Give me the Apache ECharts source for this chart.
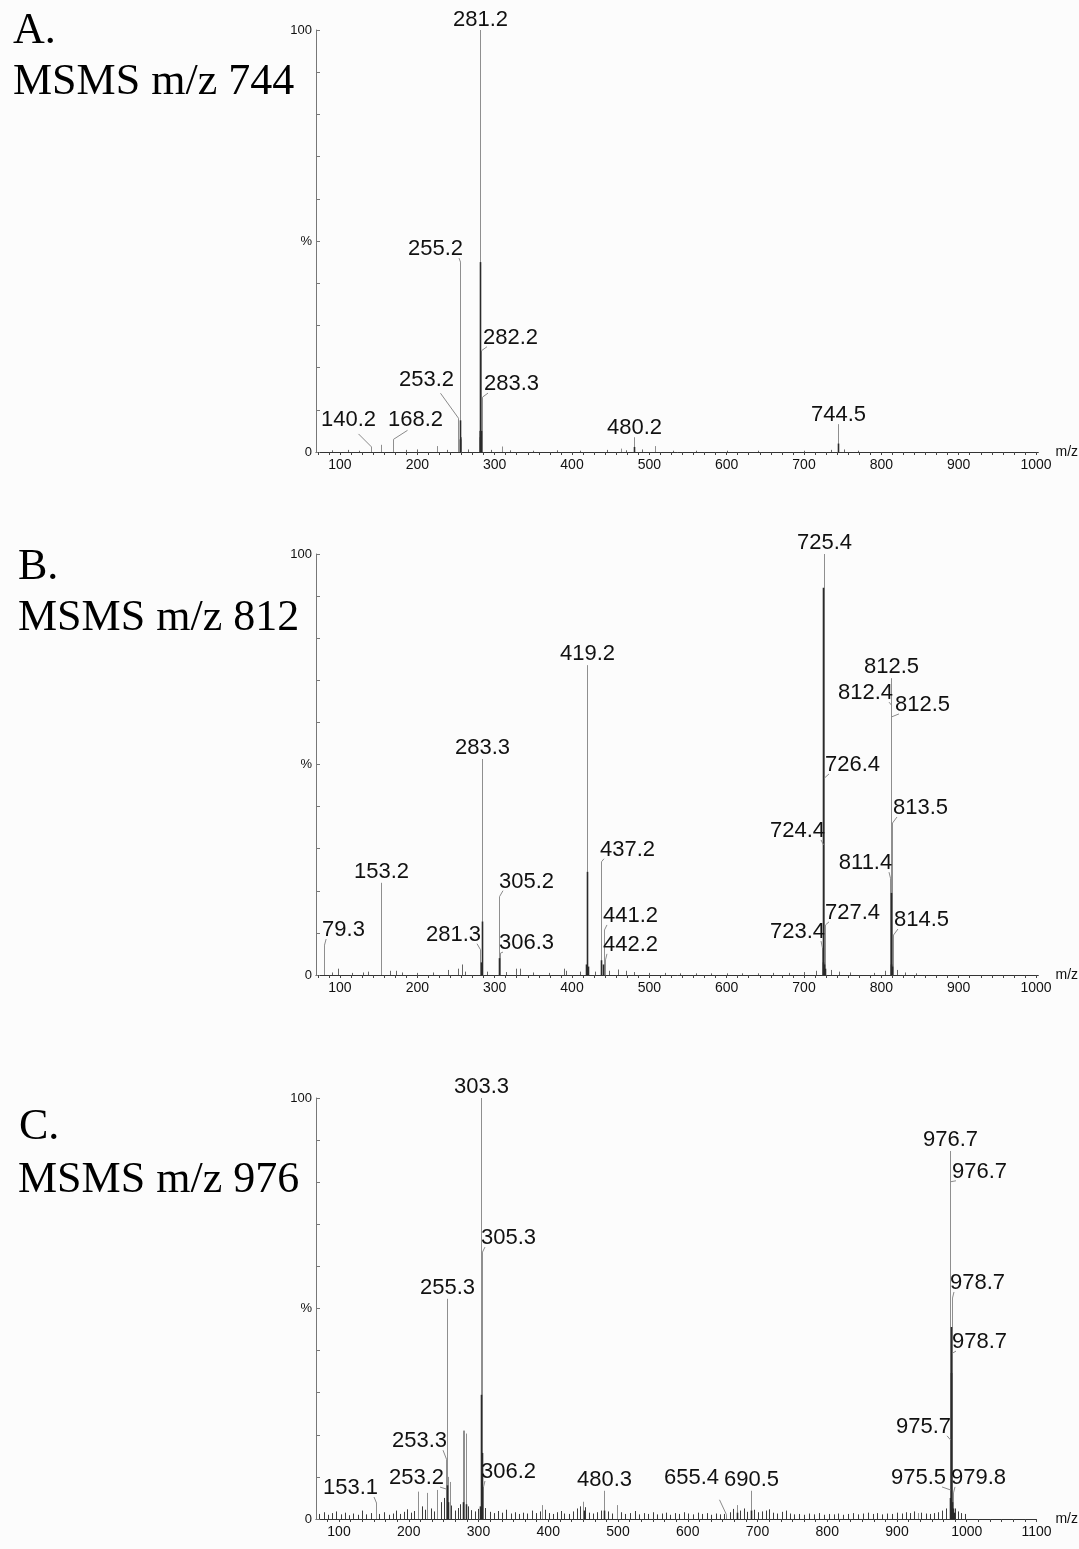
<!DOCTYPE html>
<html>
<head>
<meta charset="utf-8">
<script src="https://cdn.jsdelivr.net/npm/echarts@6/dist/echarts.min.js"></script>
<style>
	html, body { margin: 0; padding: 0; background: #fcfcfc; }
	#chart { width: 1079px; height: 1549px; }
</style>
</head>
<body>
<div id="chart"></div>
<script>
// ---- A. MSMS m/z 744 ----
var peaksA = [[140.2,1.2],[153.5,1.7],[168.2,3.0],[225,1.4],[253.2,8.0],[255.2,45],[256.3,3.5],[279.8,5],
	[281.2,100],[282.2,24],[283.3,13],[309,1.3],[463,0.8],[480.2,3.5],[507,1.4],[744.5,6.6]];
var coresA = [[254.8,7.5],[255.6,3],[281.0,45],[280.6,3.5],[281.8,5],[480.2,1.2],[744.5,2]];
var noiseA = [[90,0.4],[110,0.5],[125,0.3],[185,0.5],[200,0.6],[238,0.5],[265,0.6],[295,0.5],[320,0.4],
	[350,0.3],[380,0.4],[410,0.3],[445,0.5],[470,0.4],[490,0.6],[530,0.3],[560,0.3],[600,0.3],[640,0.3],
	[700,0.3],[735,0.5],[752,0.6],[770,0.3]];
var labelsA = [[281.2,100,'281.2'],[255.2,45,'255.2'],[282.2,24,'282.2'],[283.3,13,'283.3'],[253.2,8,'253.2'],
	[140.2,1.2,'140.2'],[168.2,3.0,'168.2'],[480.2,3.5,'480.2'],[744.5,6.6,'744.5']];
// label offsets in px from the anchor: [dx, dy, leaderX, leaderY]
var labelPosA = [[0,-10],[-25,-13],[29,-13],[29,-13],[-32,-38,-18,-25],[-23,-27,-13,-13],[22,-19,14,-9],[0,-9],[0,-9]];

// ---- B. MSMS m/z 812 ----
var peaksB = [[79.3,7.1],[153.2,21.9],[281.3,6.0],[283.3,51.3],[305.2,18.6],[306.3,5.2],[419.2,73.6],[437.2,26.9],
	[441.2,10.7],[442.2,3.6],[723.4,6.4],[724.4,30.9],[725.4,100],[726.4,46.8],[727.4,11.9],[811.4,23.0],
	[812.4,64.1],[812.5,70.5],[813.5,36.1],[814.5,9.5]];
var coresB = [[283.6,12.7],[282.6,3],[305.6,4],[419.4,24.5],[418.6,2.5],[420.4,2],[437.6,3.5],[440.4,2.5],
	[725.2,92],[724.6,3],[726.2,2.5],[727.2,1.5],[812.7,19.5],[812,2.5],[813.4,2]];
var noiseB = [[90,0.6],[98,1.5],[115,0.5],[130,0.6],[136,0.8],[165,1],[172,1],[180,0.6],[200,0.5],[220,0.6],
	[240,1.2],[253,1.5],[258,2.5],[262,0.8],[290,0.8],[315,0.7],[327,1.5],[333,1.5],[350,0.6],[370,0.5],
	[390,1.5],[392,1.0],[410,0.8],[430,0.8],[448,1],[460,1.3],[470,1],[480,0.7],[500,0.5],[520,0.5],
	[540,0.4],[560,0.4],[580,0.4],[600,0.4],[620,0.4],[640,0.4],[660,0.5],[680,0.5],[700,0.7],[715,1],
	[735,1.2],[745,0.8],[760,0.6],[790,0.5],[805,1],[820,1.2],[830,0.6],[845,0.4]];
var labelsB = [[79.3,7.1,'79.3'],[153.2,21.9,'153.2'],[281.3,6.0,'281.3'],[283.3,51.3,'283.3'],[305.2,18.6,'305.2'],
	[306.3,5.2,'306.3'],[419.2,73.6,'419.2'],[437.2,26.9,'437.2'],[441.2,10.7,'441.2'],[442.2,3.6,'442.2'],
	[725.4,100,'725.4'],[726.4,46.8,'726.4'],[724.4,30.9,'724.4'],[727.4,11.9,'727.4'],[723.4,6.4,'723.4'],
	[812.5,70.5,'812.5'],[812.4,64.1,'812.4'],[812.5,61.3,'812.5'],[813.5,36.1,'813.5'],[811.4,23.0,'811.4'],
	[814.5,9.5,'814.5']];
var labelPosB = [[19,-15],[0,-11],[-27,-15],[0,-11],[27,-15],[26,-10],[0,-11],[26,-12],[26,-14],[25,-15],
	[0,-11],[28,-13],[-26,-14],[27,-12],[-25,-16],[0,-11],[-26,-12],[31,-12],[28,-15],[-25,-15],[28,-15]];

// ---- C. MSMS m/z 976 ----
var peaksC = [[153.1,3.8],[213,6.5],[226.8,6.2],[240.4,6.9],[253.2,7.1],[253.3,14.2],[255.3,52.3],[256.5,10],
	[258.6,8.8],[277.5,21],[279.5,21],[281.5,20.3],[303.3,100],[305.3,63.4],[306.2,7.6],[391,3.3],[449.3,4.1],
	[480.3,6.7],[499,3.3],[655.4,1.0],[670,3.3],[690.5,6.7],[929.6,1.4],[975.5,6.9],[975.7,18.8],[976.7,87.4],
	[976.7,80.1],[978.7,52.5],[978.7,39.4],[979.8,6.2]];
var coresC = [[303.6,29.5],[304.4,15.7],[302.8,3],[255.5,8],[256.8,4],[278,4],[282,3.5],[977.0,45.6],[977.4,34.7],
	[976.2,5],[978.4,4],[980,2.5],[981.5,1.5],[480.3,2],[690.5,2],[451,2],[670,1.5]];
var noiseC = [[72,1.2],[78,1.6],[84,1.0],[90,1.4],[96,1.8],[103,1.1],[108,1.5],[114,0.9],[120,1.3],[127,1.0],
	[133,2.0],[139,1.1],[146,1.4],[158,1.2],[164,1.6],[171,1.0],[177,1.3],[182,2.0],[188,1.2],[193,1.7],
	[197,2.3],[203,1.5],[208,1.9],[219,3.0],[223,2.2],[232,2.5],[236,1.8],[246,4.0],[250,5.0],[261,3.2],
	[266,2.0],[270,2.6],[274,3.5],[285,3.0],[289,2.1],[295,1.8],[299,2.4],[310,2.6],[316,1.7],[322,1.4],
	[328,1.9],[334,1.5],[340,2.2],[346,1.3],[352,1.6],[358,1.2],[364,1.5],[370,1.3],[377,2.0],[383,1.4],
	[388,1.8],[395,2.2],[401,1.4],[407,1.2],[413,1.6],[418,1.9],[423,1.3],[430,1.2],[436,1.8],[441,2.5],
	[446,3.0],[453,2.8],[458,1.5],[464,1.3],[470,1.6],[475,2.0],[486,1.8],[492,1.3],[504,1.6],[510,1.2],
	[517,1.4],[524,1.9],[530,1.1],[537,1.4],[543,1.2],[550,1.6],[556,1.1],[563,1.3],[569,1.5],[575,1.0],
	[582,1.4],[588,1.2],[595,1.6],[601,1.3],[608,1.1],[614,1.5],[620,1.2],[627,1.4],[633,1.0],[640,1.3],
	[646,1.1],[652,1.2],[660,1.6],[665,2.4],[675,2.0],[680,2.5],[685,1.7],[695,2.2],[700,1.6],[706,1.8],
	[712,2.0],[717,2.3],[722,1.5],[728,1.3],[735,1.7],[741,2.0],[747,1.3],[753,1.1],[760,1.2],[767,1.0],
	[774,1.3],[781,1.1],[788,1.4],[795,1.0],[802,1.2],[809,1.1],[816,1.3],[823,1.0],[830,1.2],[837,1.4],
	[844,1.1],[851,1.3],[858,1.5],[865,1.2],[872,1.4],[879,1.1],[886,1.3],[893,1.2],[900,1.5],[907,1.3],
	[913,1.6],[919,1.4],[925,1.8],[935,1.5],[941,1.3],[947,1.2],[953,1.4],[959,1.6],[965,2.0],[970,2.5],
	[983,2.5],[987,1.8],[992,1.4],[997,1.2]];
var labelsC = [[303.3,100,'303.3'],[305.3,63.4,'305.3'],[306.2,7.6,'306.2'],[255.3,52.3,'255.3'],[253.3,14.2,'253.3'],
	[253.2,7.1,'253.2'],[153.1,3.8,'153.1'],[480.3,6.7,'480.3'],[655.4,1.0,'655.4'],[690.5,6.7,'690.5'],
	[976.7,87.4,'976.7'],[976.7,80.1,'976.7'],[978.7,52.5,'978.7'],[978.7,39.4,'978.7'],[975.7,18.8,'975.7'],
	[975.5,6.9,'975.5'],[979.8,6.2,'979.8']];
var labelPosC = [[0,-11],[26,-14],[25,-15],[0,-11],[-27,-18],[-30,-11],[-26,-15],[0,-11],[-35,-37,-7,-15],[0,-11],
	[0,-11],[29,-10],[25,-15],[27,-11],[-27,-13],[-32,-12],[25,-15]];

// axes
var xLabelsAB = [100,200,300,400,500,600,700,800,900,1000];
var xLabelsC = [100,200,300,400,500,600,700,800,900,1000,1100];
var yLabels = [0,50,100];
var yTicks = [0,10,20,30,40,50,60,70,80,90,100];
var titles = [['A.','MSMS m/z 744'],['B.','MSMS m/z 812'],['C.','MSMS m/z 976']];

var LABEL_FONT = 22;
var SANS = '"Liberation Sans", Arial, sans-serif';

function minorTicks(min, max, step) {
	var out = [];
	var v = 100;
	while (v - step >= min) v -= step;
	for (; v <= max + 0.01; v += step) out.push(Math.round(v * 100) / 100);
	return out;
}

function stick(color, width) {
	return function (params, api) {
		var top = api.coord([api.value(0), api.value(1)]);
		var base = api.coord([api.value(0), 0]);
		var x = Math.round(top[0]) + 0.5;
		return {
			type: 'line',
			shape: { x1: x, y1: top[1], x2: x, y2: base[1] },
			style: { stroke: color, lineWidth: width }
		};
	};
}

function peakLabel(labels, pos) {
	return function (params, api) {
		var i = params.dataIndex;
		var a = api.coord([api.value(0), api.value(1)]);
		a[0] = Math.round(a[0]) + 0.5;
		var p = pos[i];
		var text = labels[i][2];
		var cx = a[0] + p[0], cy = a[1] + p[1];
		var hw = ((text.length - 1) * 0.556 + 0.278) * LABEL_FONT / 2;
		var children = [{
			type: 'text', x: cx, y: cy,
			style: { text: text, fill: '#111', fontSize: LABEL_FONT, fontFamily: SANS,
				align: 'center', verticalAlign: 'middle' }
		}];
		if (Math.abs(p[0]) > 4) {
			var end;
			if (p.length > 2) end = [a[0] + p[2], a[1] + p[3]];
			else end = [cx - (p[0] > 0 ? 1 : -1) * (hw - 4), cy + 9];
			children.push({
				type: 'line',
				shape: { x1: a[0], y1: a[1], x2: end[0], y2: end[1] },
				style: { stroke: '#8a8a8a', lineWidth: 1 }
			});
		}
		return { type: 'group', children: children };
	};
}

var grids = [
	{ left: 316, top: 30, width: 729, height: 422 },
	{ left: 316, top: 554, width: 729, height: 421 },
	{ left: 316, top: 1098, width: 731, height: 421 }
];
var xRanges = [[69, 1003, xLabelsAB, 100 / 7], [69, 1003, xLabelsAB, 100 / 7], [67, 1100, xLabelsC, 100 / 6]];

var xAxes = xRanges.map(function (r, i) {
	return {
		type: 'value', gridIndex: i, min: r[0], max: r[1],
		splitLine: { show: false },
		axisLine: { lineStyle: { color: '#333', width: 1 } },
		axisTick: { customValues: minorTicks(r[0], r[1], r[3]), length: 3, lineStyle: { color: '#444' } },
		axisLabel: { customValues: r[2], fontSize: 14, color: '#111', margin: 6, fontFamily: SANS,
			formatter: function (v) { return String(v); } },
		name: 'm/z', nameLocation: 'end', nameGap: 5,
		nameTextStyle: { fontSize: 14, color: '#111', fontFamily: SANS, padding: [0, 0, 4, 0] }
	};
});

var yAxes = grids.map(function (g, i) {
	return {
		type: 'value', gridIndex: i, min: 0, max: 100, interval: 10,
		splitLine: { show: false },
		axisLine: { show: true, lineStyle: { color: '#777', width: 1 } },
		axisTick: { show: true, inside: true, length: 4, customValues: yTicks, lineStyle: { color: '#777' } },
		axisLabel: {
			customValues: yLabels, fontSize: 13, color: '#111', margin: 4, fontFamily: SANS,
			formatter: function (v) { return v === 50 ? '%' : String(v); }
		}
	};
});

function panelSeries(idx, peaks, cores, noise, labels, pos, noiseColor) {
	var base = { type: 'custom', xAxisIndex: idx, yAxisIndex: idx, silent: true, clip: false };
	return [
		Object.assign({}, base, { renderItem: stick(noiseColor, 1), data: noise }),
		Object.assign({}, base, { renderItem: stick('#8f8f8f', 1), data: peaks }),
		Object.assign({}, base, { renderItem: stick('#2a2a2a', 1.6), data: cores }),
		Object.assign({}, base, { renderItem: peakLabel(labels, pos),
			data: labels.map(function (l) { return [l[0], l[1]]; }) })
	];
}

var titlePos = [[13, 31.5, 13, 82.5], [18, 567, 18, 618], [19, 1127, 18, 1180]];
var graphics = [];
titles.forEach(function (t, i) {
	var tp = titlePos[i];
	graphics.push({ type: 'text', x: tp[0], y: tp[1],
		style: { text: t[0], fontSize: 44, fontFamily: '"Liberation Serif", "Times New Roman", serif', fill: '#000', verticalAlign: 'middle' } });
	graphics.push({ type: 'text', x: tp[2], y: tp[3],
		style: { text: t[1], fontSize: 44, fontFamily: '"Liberation Serif", "Times New Roman", serif', fill: '#000', verticalAlign: 'middle' } });
});

var chart = echarts.init(document.getElementById('chart'));
var option = {
	backgroundColor: '#fcfcfc',
	animation: false,
	grid: grids,
	xAxis: xAxes,
	yAxis: yAxes,
	graphic: graphics,
	series: [].concat(
		panelSeries(0, peaksA, coresA, noiseA, labelsA, labelPosA, '#666'),
		panelSeries(1, peaksB, coresB, noiseB, labelsB, labelPosB, '#666'),
		panelSeries(2, peaksC, coresC, noiseC, labelsC, labelPosC, '#3a3a3a')
	)
};
chart.setOption(option);
</script>
</body>
</html>
